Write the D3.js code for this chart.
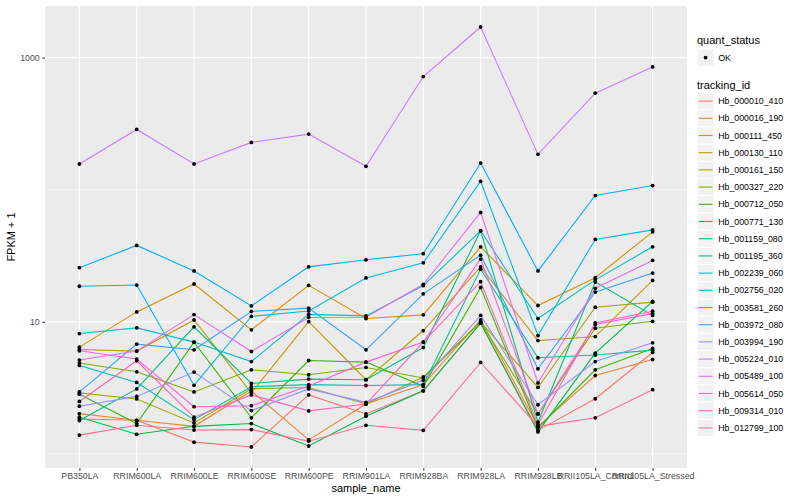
<!DOCTYPE html>
<html>
<head>
<meta charset="utf-8">
<script src="https://cdn.jsdelivr.net/npm/d3@7"></script>
<style>
  body { margin: 0; background: #fff; }
  svg text { font-family: "Liberation Sans", Arial, Helvetica, sans-serif; }
</style>
</head>
<body>
<svg id="chart" width="800" height="500"></svg>
<script>
// sample names along the x axis
var sampleNames = ['PB350LA', 'RRIM600LA', 'RRIM600LE', 'RRIM600SE', 'RRIM600PE', 'RRIM901LA',
    'RRIM928BA', 'RRIM928LA', 'RRIM928LB', 'RRII105LA_Control', 'RRII105LA_Stressed']

var trackingIds = ['Hb_000010_410', 'Hb_000016_190', 'Hb_000111_450', 'Hb_000130_110', 'Hb_000161_150',
    'Hb_000327_220', 'Hb_000712_050', 'Hb_000771_130', 'Hb_001159_080', 'Hb_001195_360',
    'Hb_002239_060', 'Hb_002756_020', 'Hb_003581_260', 'Hb_003972_080', 'Hb_003994_190',
    'Hb_005224_010', 'Hb_005489_100', 'Hb_005614_050', 'Hb_009314_010', 'Hb_012799_100']

var quantStatus = ['OK']
var yTicks = [10, 1000]

// FPKM + 1, one value per sample
var hb_000010_410 = [1.84, 1.80, 1.23, 1.13, 2.80, 2.01, 3.01, 9.78, 1.51, 2.62, 5.87]
var hb_000016_190 = [2.02, 1.80, 1.62, 3.00, 1.28, 2.39, 3.35, 10.35, 1.62, 3.93, 5.19]
var hb_000111_450 = [6.44, 11.9, 19.35, 8.70, 18.9, 10.6, 11.3, 37.0, 13.3, 21.6, 48.0]
var hb_000130_110 = [6.18, 6.01, 10.35, 2.90, 10.05, 3.65, 8.60, 26.1, 7.22, 7.74, 20.6]
var hb_000161_150 = [2.90, 2.61, 1.72, 3.12, 3.19, 2.39, 3.83, 10.0, 3.19, 12.9, 14.1]
var hb_000327_220 = [4.88, 4.19, 2.95, 4.34, 3.98, 4.52, 3.76, 10.0, 2.01, 8.96, 10.1]
var hb_000712_050 = [2.83, 1.70, 7.03, 1.88, 5.10, 4.96, 3.25, 18.2, 1.58, 4.34, 6.29]
var hb_000771_130 = [1.90, 1.41, 1.62, 1.70, 1.15, 1.93, 3.01, 9.78, 1.47, 5.80, 14.3]
var hb_001159_080 = [1.79, 3.11, 9.17, 3.42, 3.69, 3.65, 6.40, 48.9, 1.74, 20.0, 11.2]
var hb_001195_360 = [4.68, 3.48, 1.82, 3.23, 3.35, 3.30, 3.35, 25.0, 5.35, 5.61, 6.11]
var hb_002239_060 = [8.16, 9.01, 7.03, 5.01, 11.4, 11.1, 18.8, 48.9, 10.6, 20.8, 37.0]
var hb_002756_020 = [18.6, 19.0, 3.31, 11.0, 12.1, 21.5, 28.0, 115.9, 7.88, 42.1, 49.7]
var hb_003581_260 = [25.7, 37.9, 24.3, 13.2, 26.1, 29.5, 32.8, 159.3, 24.3, 90.4, 107.6]
var hb_003972_080 = [2.95, 6.79, 6.15, 12.0, 12.7, 6.15, 16.3, 32.0, 4.42, 16.8, 23.4]
var hb_003994_190 = [2.30, 2.73, 4.17, 2.13, 3.11, 2.46, 3.61, 11.2, 2.36, 5.01, 6.94]
var hb_005224_010 = [156.6, 286.1, 156.6, 228.3, 263.8, 150.4, 718.8, 1705, 185.3, 537.8, 850.8]
var hb_005489_100 = [5.14, 6.01, 11.35, 5.97, 10.8, 10.85, 19.25, 67.3, 3.45, 17.96, 29.2]
var hb_005614_050 = [6.04, 5.23, 2.28, 2.32, 3.27, 4.96, 7.03, 29.9, 2.01, 9.54, 11.55]
var hb_009314_010 = [2.50, 5.08, 1.90, 2.80, 2.12, 2.39, 7.03, 20.15, 1.67, 9.83, 12.04]
var hb_012799_100 = [1.39, 1.65, 1.52, 1.53, 1.25, 1.65, 1.51, 4.93, 1.62, 1.88, 3.07]

var seriesValues = [hb_000010_410, hb_000016_190, hb_000111_450, hb_000130_110, hb_000161_150,
    hb_000327_220, hb_000712_050, hb_000771_130, hb_001159_080, hb_001195_360,
    hb_002239_060, hb_002756_020, hb_003581_260, hb_003972_080, hb_003994_190,
    hb_005224_010, hb_005489_100, hb_005614_050, hb_009314_010, hb_012799_100]

// ggplot default hue palette for 20 levels
var palette = ['#F8766D', '#EA8331', '#D89000', '#C09B00', '#A3A500', '#7CAE00', '#39B600', '#00BB4E',
    '#00BF7D', '#00C1A3', '#00BFC4', '#00BAE0', '#00B0F6', '#35A2FF', '#9590FF', '#C77CFF',
    '#E76BF3', '#FA62DB', '#FF62BC', '#FF6C91']

var series = trackingIds.map(function(id, i) {
    return {id: id, values: seriesValues[i].map(function(v, j) { return {sample: sampleNames[j], value: v} })}
})

var svg = d3.select('#chart')
var panel = {left: 45, top: 6, right: 687, bottom: 468}

var x = d3.scalePoint()
    .domain(sampleNames)
    .range([panel.left, panel.right])
    .padding(0.6)

// log scale with ggplot's 5% expansion in log space
var allValues = d3.merge(seriesValues)
var logExtent = d3.extent(allValues, function(v) { return Math.log10(v) })
var pad = (logExtent[1] - logExtent[0]) * 0.05
var y = d3.scaleLog()
    .domain([Math.pow(10, logExtent[0] - pad), Math.pow(10, logExtent[1] + pad)])
    .range([panel.bottom, panel.top])

svg.append('rect')
    .attr('x', panel.left).attr('y', panel.top)
    .attr('width', panel.right - panel.left).attr('height', panel.bottom - panel.top)
    .attr('fill', '#EBEBEB')

// minor grid (midpoints between majors in log space)
var minorTicks = [1, 100]
svg.append('g').selectAll('line').data(minorTicks).join('line')
    .attr('x1', panel.left).attr('x2', panel.right)
    .attr('y1', function(d) { return y(d) }).attr('y2', function(d) { return y(d) })
    .attr('stroke', '#fff').attr('stroke-width', 0.55)

// major grid
svg.append('g').selectAll('line').data(yTicks).join('line')
    .attr('x1', panel.left).attr('x2', panel.right)
    .attr('y1', function(d) { return y(d) }).attr('y2', function(d) { return y(d) })
    .attr('stroke', '#fff').attr('stroke-width', 1.1)
svg.append('g').selectAll('line').data(sampleNames).join('line')
    .attr('x1', function(d) { return x(d) }).attr('x2', function(d) { return x(d) })
    .attr('y1', panel.top).attr('y2', panel.bottom)
    .attr('stroke', '#fff').attr('stroke-width', 1.1)

// lines
var line = d3.line()
    .x(function(d) { return x(d.sample) })
    .y(function(d) { return y(d.value) })

svg.append('g').selectAll('path').data(series).join('path')
    .attr('d', function(d) { return line(d.values) })
    .attr('fill', 'none')
    .attr('stroke', function(d, i) { return palette[i] })
    .attr('stroke-width', 1.1)

// points
svg.append('g').selectAll('circle').data(d3.merge(series.map(function(s) { return s.values }))).join('circle')
    .attr('cx', function(d) { return x(d.sample) })
    .attr('cy', function(d) { return y(d.value) })
    .attr('r', 1.9)
    .attr('fill', '#000')

// X axis
var xAxis = svg.append('g')
    .attr('transform', 'translate(0,' + panel.bottom + ')')
    .call(d3.axisBottom(x).tickSize(2.75).tickPadding(2.5))
xAxis.select('.domain').remove()
xAxis.selectAll('line').attr('stroke', '#333')
xAxis.selectAll('text').attr('fill', '#4D4D4D').style('font-size', '8.8px')

// Y axis
var yAxis = svg.append('g')
    .attr('transform', 'translate(' + panel.left + ',0)')
    .call(d3.axisLeft(y).tickValues(yTicks).tickFormat(d3.format('d')).tickSize(2.75).tickPadding(2.5))
yAxis.select('.domain').remove()
yAxis.selectAll('line').attr('stroke', '#333')
yAxis.selectAll('text').attr('fill', '#4D4D4D').style('font-size', '8.8px')

svg.append('text')
    .attr('x', (panel.left + panel.right) / 2).attr('y', 492)
    .attr('text-anchor', 'middle')
    .style('font-size', '11px')
    .text('sample_name')

svg.append('text')
    .attr('transform', 'translate(15,' + ((panel.top + panel.bottom) / 2) + ') rotate(-90)')
    .attr('text-anchor', 'middle')
    .style('font-size', '11px')
    .text('FPKM + 1')

// Legend
var legendX = 697
var keySize = 17.2
var legend = svg.append('g')

legend.append('text')
    .attr('x', legendX).attr('y', 44)
    .style('font-size', '11px')
    .text('quant_status')
var qs = legend.selectAll('g.qs').data(quantStatus).join('g')
    .attr('class', 'qs')
    .attr('transform', function(d, i) { return 'translate(' + legendX + ',' + (49 + i * keySize) + ')' })
qs.append('rect').attr('width', keySize).attr('height', keySize).attr('fill', '#F2F2F2').attr('stroke', '#fff')
qs.append('circle').attr('cx', keySize / 2).attr('cy', keySize / 2).attr('r', 1.9).attr('fill', '#000')
qs.append('text').attr('x', keySize + 4).attr('y', keySize / 2 + 3.2).style('font-size', '8.8px').text(function(d) { return d })

legend.append('text')
    .attr('x', legendX).attr('y', 89)
    .style('font-size', '11px')
    .text('tracking_id')
var items = legend.selectAll('g.tid').data(trackingIds).join('g')
    .attr('class', 'tid')
    .attr('transform', function(d, i) { return 'translate(' + legendX + ',' + (92.5 + i * keySize) + ')' })
items.append('rect').attr('width', keySize).attr('height', keySize).attr('fill', '#F2F2F2').attr('stroke', '#fff')
items.append('line')
    .attr('x1', 1.7).attr('x2', keySize - 1.7)
    .attr('y1', keySize / 2).attr('y2', keySize / 2)
    .attr('stroke', function(d, i) { return palette[i] })
    .attr('stroke-width', 1.1)
items.append('text')
    .attr('x', keySize + 4).attr('y', keySize / 2 + 3.2)
    .style('font-size', '8.8px')
    .text(function(d) { return d })
</script>
</body>
</html>
